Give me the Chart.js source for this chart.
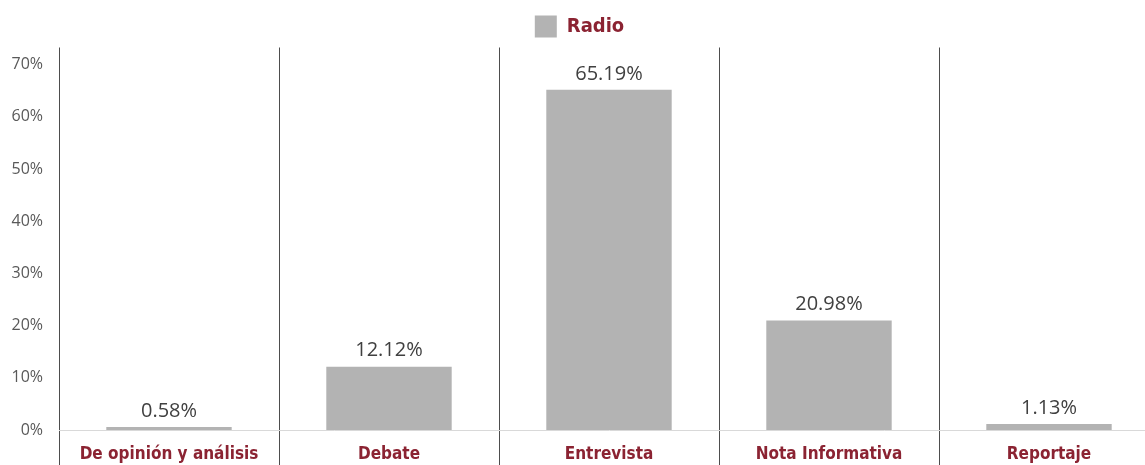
<!DOCTYPE html>
<html>
<head>
<meta charset="utf-8">
<script src="https://cdn.jsdelivr.net/npm/chart.js@4/dist/chart.umd.min.js"></script>
<style>
  html, body { margin: 0; padding: 0; background: #fff; overflow: hidden; }
  #wrap { width: 1159px; height: 465px; position: relative; }
</style>
</head>
<body>
<div id="wrap"><canvas id="c"></canvas></div>
<script>
const categories = ["De opinión y análisis", "Debate", "Entrevista", "Nota Informativa", "Reportaje"];
const radioValues = [0.58, 12.12, 65.19, 20.98, 1.13];
const seriesName = "Radio";
const yTickValues = [0, 10, 20, 30, 40, 50, 60, 70];

const RED = '#8b2332';
const condensed = '"Liberation Sans Narrow", "DejaVu Sans Condensed", "Roboto Condensed", sans-serif';

const valueLabels = {
  id: 'valueLabels',
  afterDatasetsDraw(chart) {
    const ctx = chart.ctx;
    ctx.save();
    ctx.font = '20px "Open Sans", sans-serif';
    ctx.fillStyle = '#404040';
    ctx.textAlign = 'center';
    ctx.textBaseline = 'bottom';
    chart.getDatasetMeta(0).data.forEach((bar, i) => {
      const v = chart.data.datasets[0].data[i];
      ctx.fillText(v.toFixed(2) + '%', bar.x, bar.y - 6);
    });
    ctx.restore();
  }
};

new Chart(document.getElementById('c'), {
  type: 'bar',
  data: {
    labels: categories,
    datasets: [{
      label: seriesName,
      data: radioValues,
      backgroundColor: '#b3b3b3',
      borderWidth: 0,
      barPercentage: 0.57,
      categoryPercentage: 1.0
    }]
  },
  options: {
    responsive: true,
    maintainAspectRatio: false,
    animation: false,
    layout: { padding: { top: 1, right: 0, bottom: 0, left: 0 } },
    plugins: {
      legend: {
        display: true,
        position: 'top',
        labels: {
          boxWidth: 22,
          boxHeight: 22,
          padding: 14.5,
          color: RED,
          font: { family: condensed, size: 20, weight: 'bold' }
        }
      },
      tooltip: { enabled: false }
    },
    scales: {
      x: {
        offset: true,
        grid: {
          display: true,
          offset: true,
          color: '#4d4d4d',
          lineWidth: 1,
          drawTicks: true,
          tickLength: 35,
          tickColor: '#4d4d4d'
        },
        border: { display: true, color: '#d9d9d9', width: 1 },
        ticks: {
          color: RED,
          padding: -21,
          maxRotation: 0,
          autoSkip: false,
          font: { family: condensed, size: 17, weight: 'bold' }
        },
        afterFit(scale) { scale.height = 35; }
      },
      y: {
        min: 0,
        max: 73.3,
        grid: { display: false, drawTicks: false },
        border: { display: false },
        afterBuildTicks(scale) {
          scale.ticks = yTickValues.map(v => ({ value: v }));
        },
        ticks: {
          color: '#595959',
          padding: 16,
          font: { family: '"Open Sans", sans-serif', size: 16 },
          callback: v => v + '%'
        },
        afterFit(scale) { scale.width = 59; }
      }
    }
  },
  plugins: [valueLabels]
});
</script>
</body>
</html>
